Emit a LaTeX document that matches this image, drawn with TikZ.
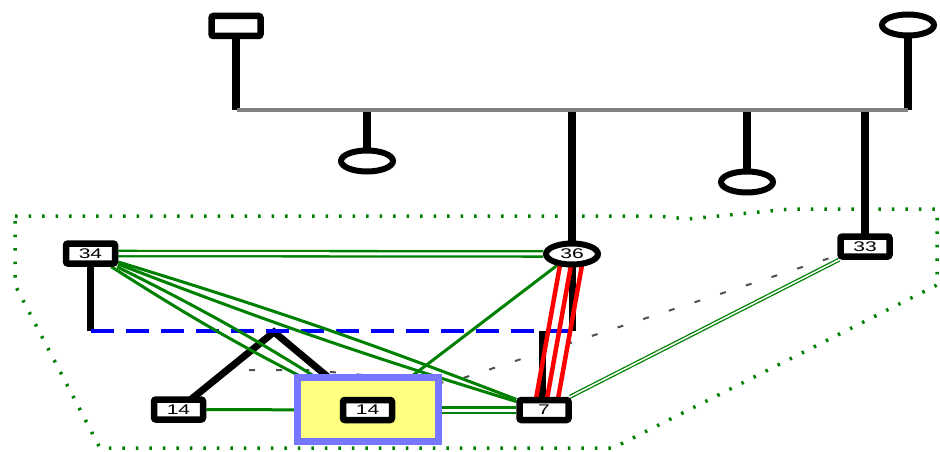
\documentclass[tikz,border=0pt]{standalone}
\usepackage{graphicx}
\usepackage{fontspec}
\setmainfont{Liberation Sans}
\usetikzlibrary{shapes.geometric}
\definecolor{gr}{RGB}{0,128,0}
\definecolor{bord}{RGB}{118,118,255}
\definecolor{fillY}{RGB}{255,255,128}
\definecolor{dg}{RGB}{80,80,80}
\definecolor{busgray}{RGB}{128,128,128}
\newcommand\lb[1]{\scalebox{1.5}[1]{\fontsize{14}{15}\selectfont #1}}
\pgfdeclarelayer{bg}
\pgfsetlayers{bg,main}
\tikzset{
  box/.style={draw=black, line width=6.5pt, fill=white, rounded corners=2pt,
    minimum width=49pt, minimum height=20pt, inner sep=0pt},
  ell/.style={ellipse, draw=black, line width=6pt, fill=white,
    minimum width=52pt, minimum height=21pt, inner sep=0pt},
  vl/.style={line width=7.5pt, black},
  bk/.style={line width=7pt, black},
  gdbl/.style={draw=gr, double=white, line width=2.3pt, double distance=3pt},
  gthin/.style={draw=gr, double=white, line width=1.3pt, double distance=1.5pt},
  gone/.style={draw=gr, line width=3pt},
  rd/.style={draw=red, line width=4.5pt},
  bluedash/.style={draw=blue, line width=4pt, dash pattern=on 23pt off 12pt},
  gdash/.style={draw=dg, line width=2pt, dash pattern=on 6pt off 21pt},
  region/.style={draw=gr, line width=3.5pt, dash pattern=on 2.5pt off 11pt},
}
\begin{document}
\begin{tikzpicture}[x=1pt,y=-1pt]
\useasboundingbox (0,0) rectangle (940,452);
% nodes
\node[box] (tl) at (236,26) {};
\node[ell] (tr) at (908,25) {};
\node[ell] (e1) at (367,161) {};
\node[ell] (e2) at (747,182) {};
\node[box] (n34) at (90.5,253.5) {\lb{34}};
\node[ell] (n36) at (572,254) {\lb{36}};
\node[box] (n33) at (865,246.5) {\lb{33}};
\node[box] (n14a) at (178.5,409.5) {\lb{14}};
\node[draw=bord, fill=fillY, line width=7pt, minimum width=141pt,
  minimum height=64pt, inner sep=0pt] (yb) at (368,409.5) {};
\node[box] (n14b) at (367.5,410) {\lb{14}};
\node[box] (n7) at (544,410) {\lb{7}};
% coordinates
\coordinate (busL) at (237,110);
\coordinate (busR) at (908,110);
\coordinate (busB) at (0,112);
\coordinate (jy) at (0,331);
\coordinate (japex) at (274,332);
\coordinate (gs) at (222,370);
\coordinate (gm1) at (310,370);
\coordinate (gm2) at (448,383);
\begin{pgfonlayer}{bg}
  % region
  \draw[region] (15,216) -- (657,216) -- (688,219) -- (790,209) -- (937,209)
     -- (937,285) -- (613,448) -- (100,448) -- (15,285) -- cycle;
  % top bus
  \draw[vl] (tl.center) -- (tl.center |- busL);
  \draw[vl] (tr.center) -- (tr.center |- busR);
  \draw[vl] (e1.center) -- (e1.center |- busB);
  \draw[vl] (e2.center) -- (e2.center |- busB);
  \draw[vl] (n36.center) -- (n36.center |- busB);
  \draw[vl] (n33.center) -- (n33.center |- busB);
  \draw[draw=busgray, line width=4pt] (busL) -- (busR);
  % gray dashed
  \draw[gdash] (gs) -- (gm1) -- (gm2) -- (n33);
  % black connectors
  \draw[bk] (n34.center) -- (n34.center |- jy);
  \draw[bk] (n36.center) -- (n36.center |- jy);
  \draw[bk] ([xshift=-2pt]n7.center) -- ([xshift=-2pt]n7.center |- jy);
  \draw[bk, line join=miter] (n14a.center) -- (japex) -- (n14b.center);
  \draw[bluedash] (n34.center |- jy) -- (n36.center |- jy);
  % green edges
  \draw[gdbl] (n34) -- (n36);
  \draw[gone] (n34) to[bend left=2] (n7);
  \draw[gone] (n34) to[bend right=2] (n7);
  \draw[gone] (n34) to[bend left=3] (n14b);
  \draw[gone] (n34) to[bend right=3] (n14b);
  \draw[gone] (n36) -- (n14b);
  \draw[gone] (n14a) -- (n14b);
  \draw[gdbl] (n14b) -- (n7);
  \draw[gthin] (n7) -- (n33);
  % red edges
  \draw[rd] ([xshift=-10pt]n36.center) -- ([xshift=-10pt]n7.center);
  \draw[rd] ([xshift=1pt]n36.center) -- ([xshift=1pt]n7.center);
  \draw[rd] ([xshift=12pt]n36.center) -- ([xshift=12pt]n7.center);
\end{pgfonlayer}
\end{tikzpicture}
\end{document}
